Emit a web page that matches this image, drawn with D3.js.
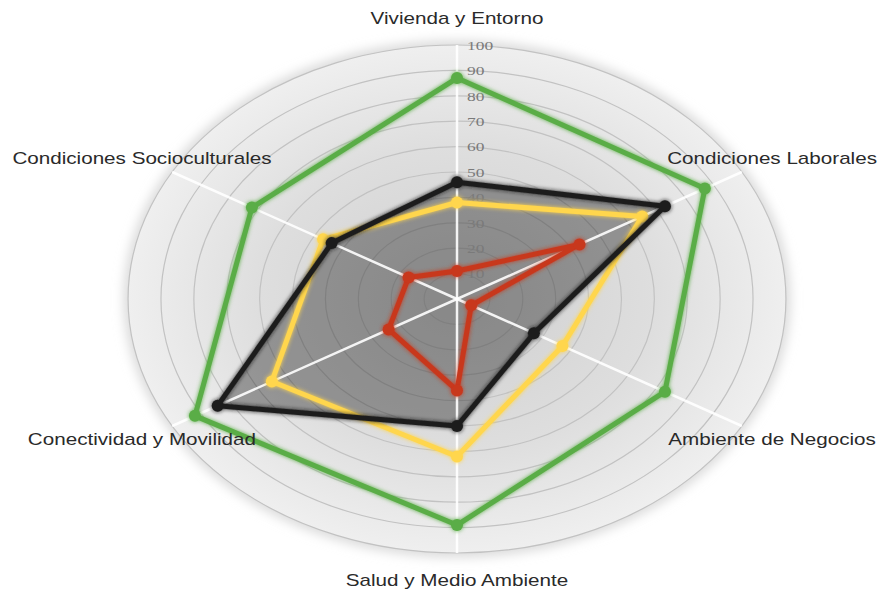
<!DOCTYPE html>
<html>
<head>
<meta charset="utf-8">
<script src="https://cdn.jsdelivr.net/npm/d3@7"></script>
<style>
  html, body { margin: 0; padding: 0; background: #ffffff; }
  svg { display: block; }
</style>
</head>
<body>
<svg id="chart" width="880" height="592"></svg>
<script>
// ---- data ----
const categories = ["Vivienda y Entorno", "Condiciones Laborales", "Ambiente de Negocios",
                    "Salud y Medio Ambiente", "Conectividad y Movilidad", "Condiciones Socioculturales"];
const tickValues = [10, 20, 30, 40, 50, 60, 70, 80, 90, 100];
const seriesGreen  = [87, 87, 73, 89, 92, 72];
const seriesYellow = [38, 65, 37, 62, 65, 47];
const seriesBlack  = [46, 73, 27, 50, 84, 44];
const seriesRed    = [11, 43, 5, 36, 24, 17];

const series = [
  { name: "verde",    values: seriesGreen,  color: "#5aad46" },
  { name: "amarillo", values: seriesYellow, color: "#ffd64d" },
  { name: "negro",    values: seriesBlack,  color: "#1c1c1c" },
  { name: "rojo",     values: seriesRed,    color: "#c8371d" }
];

// ---- layout ----
const cx = 457, cy = 299;
const R = 254;       // vertical radius of 100
const sx = 1.295;    // horizontal stretch
const svg = d3.select("#chart");

const r = d3.scaleLinear().domain([0, 100]).range([0, R]);
const angle = d3.scaleLinear().domain([0, categories.length]).range([0, 2 * Math.PI]);

const px = (v, i) => cx + sx * r(v) * Math.sin(angle(i));
const py = (v, i) => cy - r(v) * Math.cos(angle(i));

const defs = svg.append("defs");
const grad = defs.append("radialGradient").attr("id", "bg")
  .attr("cx", "50%").attr("cy", "50%").attr("r", "50%");
grad.append("stop").attr("offset", "0%").attr("stop-color", "#cfcfcf");
grad.append("stop").attr("offset", "60%").attr("stop-color", "#dedede");
grad.append("stop").attr("offset", "100%").attr("stop-color", "#efefef");

const shadow = defs.append("filter").attr("id", "shadow")
  .attr("x", "-20%").attr("y", "-20%").attr("width", "140%").attr("height", "140%");
shadow.append("feGaussianBlur").attr("stdDeviation", 6);

const glow = defs.append("filter").attr("id", "glow")
  .attr("x", "-10%").attr("y", "-10%").attr("width", "120%").attr("height", "120%");
glow.append("feGaussianBlur").attr("in", "SourceGraphic").attr("stdDeviation", 2).attr("result", "b");
const fm = glow.append("feMerge");
fm.append("feMergeNode").attr("in", "b");
fm.append("feMergeNode").attr("in", "SourceGraphic");

// background disc with soft edge
svg.append("ellipse").attr("cx", cx).attr("cy", cy)
  .attr("rx", sx * r(100) + 4).attr("ry", r(100) + 4)
  .attr("fill", "#d8d8d8").attr("filter", "url(#shadow)");
svg.append("ellipse").attr("cx", cx).attr("cy", cy)
  .attr("rx", sx * r(100)).attr("ry", r(100))
  .attr("fill", "url(#bg)");

// grid rings
svg.append("g").selectAll("ellipse").data(tickValues).join("ellipse")
  .attr("cx", cx).attr("cy", cy)
  .attr("rx", d => sx * r(d)).attr("ry", d => r(d))
  .attr("fill", "none").attr("stroke", "#c2c2c2").attr("stroke-width", 1.2);

// black series area fill (under everything)
const lineGen = d3.line().x(d => d.x).y(d => d.y).curve(d3.curveLinearClosed);
const pts = s => s.values.map((v, i) => ({ x: px(v, i), y: py(v, i) }));

svg.append("path").datum(pts(series[2]))
  .attr("d", lineGen)
  .attr("fill", "#000").attr("fill-opacity", 0.34).attr("stroke", "none");

// axes
svg.append("g").selectAll("line").data(categories).join("line")
  .attr("x1", cx).attr("y1", cy)
  .attr("x2", (d, i) => px(100, i)).attr("y2", (d, i) => py(100, i))
  .attr("stroke", "#ffffff").attr("stroke-width", 2.5).attr("stroke-opacity", 0.9);

// tick labels
svg.append("g").selectAll("text").data(tickValues).join("text")
  .attr("transform", d => `translate(${cx + 10},${cy - r(d)}) scale(1.29,1)`)
  .attr("dominant-baseline", "central")
  .attr("font-family", "'Liberation Serif', 'DejaVu Serif', serif")
  .attr("font-size", 13.5)
  .attr("fill", "#7a7a7a")
  .text(d => d);

// series lines and markers
series.forEach(s => {
  const g = svg.append("g").attr("filter", "url(#glow)");
  g.append("path").datum(pts(s))
    .attr("d", lineGen)
    .attr("fill", "none").attr("stroke", s.color)
    .attr("stroke-width", 5).attr("stroke-linejoin", "round");
  g.selectAll("circle").data(pts(s)).join("circle")
    .attr("cx", d => d.x).attr("cy", d => d.y).attr("r", 6)
    .attr("fill", s.color);
});

// category labels
svg.append("g").selectAll("text").data(categories).join("text")
  .attr("transform", (d, i) => `translate(${px(110.6, i)},${py(110.6, i)}) scale(1.29,1)`)
  .attr("text-anchor", "middle")
  .attr("dominant-baseline", "central")
  .attr("font-family", "'Liberation Sans', Arial, sans-serif")
  .attr("font-size", 16)
  .attr("fill", "#2a2a2a")
  .text(d => d);
</script>
</body>
</html>
